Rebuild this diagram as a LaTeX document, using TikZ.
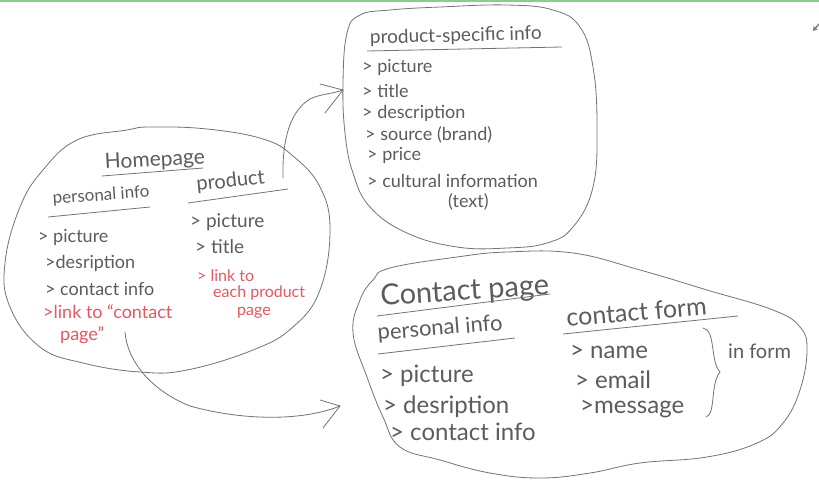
\documentclass[tikz,border=0pt]{standalone}
\usepackage{fontspec}
\setmainfont{Lato}
\usetikzlibrary{arrows.meta}
\definecolor{ink}{RGB}{92,92,92}
\definecolor{stroke}{RGB}{115,115,115}
\definecolor{redink}{RGB}{232,86,96}
\definecolor{topgreen}{RGB}{140,205,140}
\newcommand\fsz[1]{\fontsize{#1}{#1}\selectfont}
\tikzset{
  hand/.style={anchor=base west, inner sep=0pt, text=ink},
  redhand/.style={hand, text=redink},
  blob/.style={draw=stroke, line width=0.8pt},
  uline/.style={draw=stroke, line width=0.8pt},
  conn/.style={draw=stroke, line width=0.8pt, line cap=round},
}
\begin{document}
\begin{tikzpicture}[x=1pt,y=-1pt]
\useasboundingbox (0,0) rectangle (819,498);
\fill[white] (0,0) rectangle (819,498);
\draw[topgreen, line width=2pt] (0,1) -- (819,1);
\draw[gray, line width=1.5pt, -{Triangle[length=4pt,width=5pt]}] (819,24) -- (813,31);

% blobs
\draw[blob] plot[smooth cycle, tension=0.7] coordinates {(127,130) (150,127) (207,129) (263,139) (293,156) (320,187) (330,230) (320,290) (293,327) (253,350) (187,370) (140,372) (83,363) (40,347) (10,307) (5,263) (20,207) (43,170) (77,140)};
\draw[blob] plot[smooth cycle, tension=0.7] coordinates {(360,15) (390,10) (440,7) (507,5) (553,10) (580,27) (593,67) (597,127) (593,187) (573,227) (547,243) (507,248) (457,247) (407,233) (370,207) (353,173) (345,133) (343,83) (347,33)};
\draw[blob] plot[smooth cycle, tension=0.7] coordinates {(390,268) (457,257) (507,252) (573,253) (640,270) (707,290) (773,310) (800,327) (807,350) (800,390) (783,423) (757,443) (707,457) (640,463) (590,473) (540,478) (490,473) (440,460) (400,447) (383,417) (367,377) (353,333) (360,300) (373,280)};

% homepage
\node[hand, font=\fsz{21}, rotate=3] (hp) at (105,169) {Homepage};
\draw[uline] (102,176) -- (203,168);
\node[hand, font=\fsz{17}, rotate=4] (hppi) at (53,204) {personal info};
\draw[uline] (48,217) -- (150,207);
\node[hand, font=\fsz{20}, rotate=6] (hppr) at (197,191) {product};
\draw[uline] (188,203) -- (288,189);
\node[hand, font=\fsz{18}] (hl1) at (38,242) {> picture};
\node[hand, font=\fsz{18}] (hl2) at (45,268) {>desription};
\node[hand, font=\fsz{18}] (hl3) at (45,295) {> contact info};
\node[redhand, font=\fsz{18}] (hl4) at (43,318) {>link to “contact};
\node[redhand, font=\fsz{18}] (hl5) at (60,340) {page”};
\node[hand, font=\fsz{19}] (hr1) at (190,227) {> picture};
\node[hand, font=\fsz{19}] (hr2) at (195,253) {> title};
\node[redhand, font=\fsz{16}] (hr3) at (197,281) {> link to};
\node[redhand, font=\fsz{16}] (hr4) at (213,297) {each product};
\node[redhand, font=\fsz{16}] (hr5) at (237,315) {page};

% product-specific
\node[hand, font=\fsz{19}, rotate=1.5] (ps) at (370,44) {product-specific info};
\draw[uline] (367,51) -- (562,47);
\node[hand, font=\fsz{18}] (p1) at (362,72) {> picture};
\node[hand, font=\fsz{18}] (p2) at (362,97) {> title};
\node[hand, font=\fsz{18}] (p3) at (362,118) {> description};
\node[hand, font=\fsz{18}] (p4) at (365,140) {> source (brand)};
\node[hand, font=\fsz{18}] (p5) at (367,160) {> price};
\node[hand, font=\fsz{18}] (p6) at (367,187) {> cultural information};
\node[hand, font=\fsz{18}] (p7) at (448,207) {(text)};

% contact page
\node[hand, font=\fsz{29}, rotate=4] (ct) at (381,306) {Contact page};
\draw[uline] (377,316) -- (550,294);
\node[hand, font=\fsz{22}, rotate=4.5] (cpi) at (378,340) {personal info};
\draw[uline] (378,354) -- (515,338);
\node[hand, font=\fsz{25}, rotate=5] (cf) at (567,327) {contact form};
\draw[uline] (563,334) -- (738,316);
\node[hand, font=\fsz{24}] (c1) at (380,382) {> picture};
\node[hand, font=\fsz{24}] (c2) at (383,413) {> desription};
\node[hand, font=\fsz{24}] (c3) at (390,440) {> contact info};
\node[hand, font=\fsz{24}] (c4) at (570,358) {> name};
\node[hand, font=\fsz{24}] (c5) at (575,388) {> email};
\node[hand, font=\fsz{24}] (c6) at (580,413) {>message};
\draw[uline] (703,328) .. controls (716,330) and (710,362) .. (720,372) .. controls (710,384) and (716,414) .. (706,417);
\node[hand, font=\fsz{20}] (cif) at (728,358) {in form};

% connectors
\coordinate (a1s) at (283,178);
\coordinate (a1e) at (343,90);
\draw[conn] (a1s) .. controls (282,135) and (292,110) .. (310,99) .. controls (320,94) and (332,94) .. (a1e);
\draw[conn] (a1e) -- ++(-23,-6);
\draw[conn] (a1e) -- ++(-18,23);
\coordinate (a2s) at (125,332);
\coordinate (a2e) at (340,406);
\draw[conn] (a2s) .. controls (127,360) and (150,390) .. (190,406) .. controls (240,420) and (300,422) .. (a2e);
\draw[conn] (a2e) -- ++(-20,-6);
\draw[conn] (a2e) -- ++(-17,22);
\end{tikzpicture}
\end{document}
